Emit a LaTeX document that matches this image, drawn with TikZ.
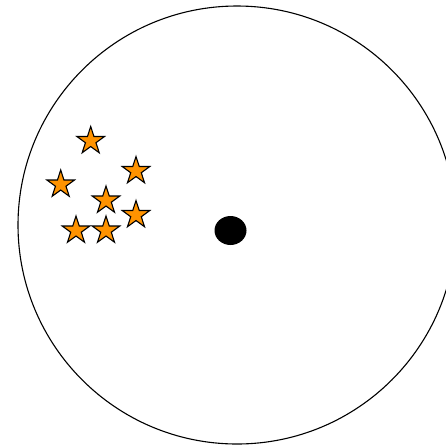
\documentclass[tikz,border=0pt]{standalone}
\usepackage{tikz}
\usetikzlibrary{shapes.geometric}

\begin{document}
\begin{tikzpicture}[
  x=1pt, y=-1pt,
  every node/.style={inner sep=0pt, outer sep=0pt},
  starpt/.style={star, star points=5, star point ratio=2.618, draw=black, line width=1.1pt, fill=orange!85!yellow, minimum size=29pt, shape border rotate=0},
  dot/.style={ellipse, fill=black, minimum width=32pt, minimum height=29pt}
]
\useasboundingbox (0,0) rectangle (446,445);
\fill[white] (0,0) rectangle (446,445);
\begin{scope}
\clip (0,0) rectangle (446,445);
\draw[line width=1.1pt] (237,225) circle (219);
\end{scope}
\node[dot] (centre) at (230.5,230.5) {};
\node[starpt] (s1) at (90.7,141) {};
\node[starpt] (s2) at (136,171) {};
\node[starpt] (s3) at (60.7,184.5) {};
\node[starpt] (s4) at (106,200.5) {};
\node[starpt] (s5) at (136,215) {};
\node[starpt] (s6) at (76,230.5) {};
\node[starpt] (s7) at (106,230.5) {};
\end{tikzpicture}
\end{document}
